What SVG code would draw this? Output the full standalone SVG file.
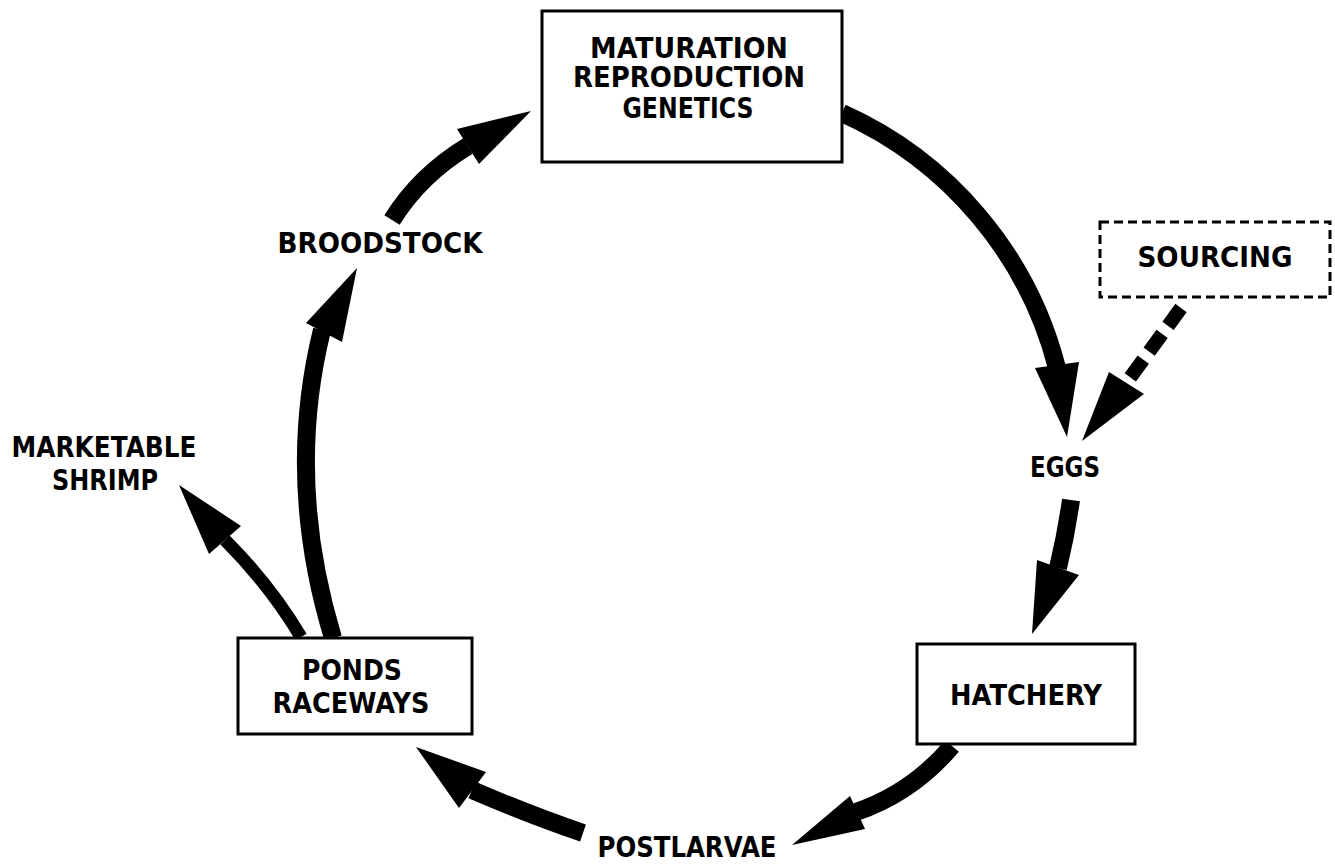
<svg xmlns="http://www.w3.org/2000/svg" width="1335" height="867" viewBox="0 0 1335 867">
<style>
.box{fill:#fff;stroke:#000;stroke-width:3}
.dbox{fill:#fff;stroke:#000;stroke-width:3;stroke-dasharray:9 5}
.t{font-family:"DejaVu Sans","Liberation Sans",sans-serif;font-weight:bold;font-size:27.5px;fill:#000;text-anchor:middle}
.ln{fill:none;stroke:#000;stroke-width:18}
.hd{fill:#000;stroke:none}
</style>
<rect width="1335" height="867" fill="#fff"/>
<g id="connectors">
<path class="ln" d="M 842 113 A 384 384 0 0 1 1057 368"/>
<polygon class="hd" points="1035,368 1079,362 1067,437"/>
<path class="ln" d="M 1071 500 Q 1066 535 1058 568"/>
<polygon class="hd" points="1037,560 1079,575 1032,634"/>
<path class="ln" d="M 952 746 Q 912 793 856 812"/>
<polygon class="hd" points="850,796 865,829 792,845"/>
<path class="ln" d="M 583 833 Q 530 815 472 790"/>
<polygon class="hd" points="486,772 459,808 416,747"/>
<path class="ln" d="M 333 638 Q 285 480 322 330"/>
<polygon class="hd" points="306,323 342,342 357,268"/>
<path class="ln" d="M 392 220 Q 420 175 468 146"/>
<polygon class="hd" points="457,129 479,164 531,111"/>
<path class="ln" style="stroke-width:13" d="M 301 637 Q 270 585 225 540"/>
<polygon class="hd" points="241,526 209,554 179,485"/>
<path class="ln" style="stroke-width:14;stroke-dasharray:22 10" d="M 1181 308 L 1127 382"/>
<polygon class="hd" points="1109,372 1144,394 1082,441"/>
</g>
<g id="maturation">
<rect class="box" x="542" y="11" width="300" height="151"/>
<text class="t" x="689" y="58" textLength="198" lengthAdjust="spacingAndGlyphs">MATURATION</text>
<text class="t" x="689" y="87" textLength="232" lengthAdjust="spacingAndGlyphs">REPRODUCTION</text>
<text class="t" x="688" y="118" textLength="131" lengthAdjust="spacingAndGlyphs">GENETICS</text>
</g>
<g id="sourcing">
<rect class="dbox" x="1100" y="222" width="230" height="75"/>
<text class="t" x="1215" y="267" textLength="155" lengthAdjust="spacingAndGlyphs">SOURCING</text>
</g>
<g id="eggs">
<text class="t" x="1065" y="477" textLength="70" lengthAdjust="spacingAndGlyphs">EGGS</text>
</g>
<g id="hatchery">
<rect class="box" x="917" y="644" width="218" height="100"/>
<text class="t" x="1026" y="705" textLength="152" lengthAdjust="spacingAndGlyphs">HATCHERY</text>
</g>
<g id="postlarvae">
<text class="t" x="687" y="857" textLength="179" lengthAdjust="spacingAndGlyphs">POSTLARVAE</text>
</g>
<g id="ponds">
<rect class="box" x="238" y="638" width="234" height="96"/>
<text class="t" x="352" y="680" textLength="100" lengthAdjust="spacingAndGlyphs">PONDS</text>
<text class="t" x="351" y="713" textLength="157" lengthAdjust="spacingAndGlyphs">RACEWAYS</text>
</g>
<g id="broodstock">
<text class="t" x="380" y="253" textLength="205" lengthAdjust="spacingAndGlyphs">BROODSTOCK</text>
</g>
<g id="marketable">
<text class="t" x="104" y="457" textLength="185" lengthAdjust="spacingAndGlyphs">MARKETABLE</text>
<text class="t" x="105" y="490" textLength="106" lengthAdjust="spacingAndGlyphs">SHRIMP</text>
</g>
</svg>
